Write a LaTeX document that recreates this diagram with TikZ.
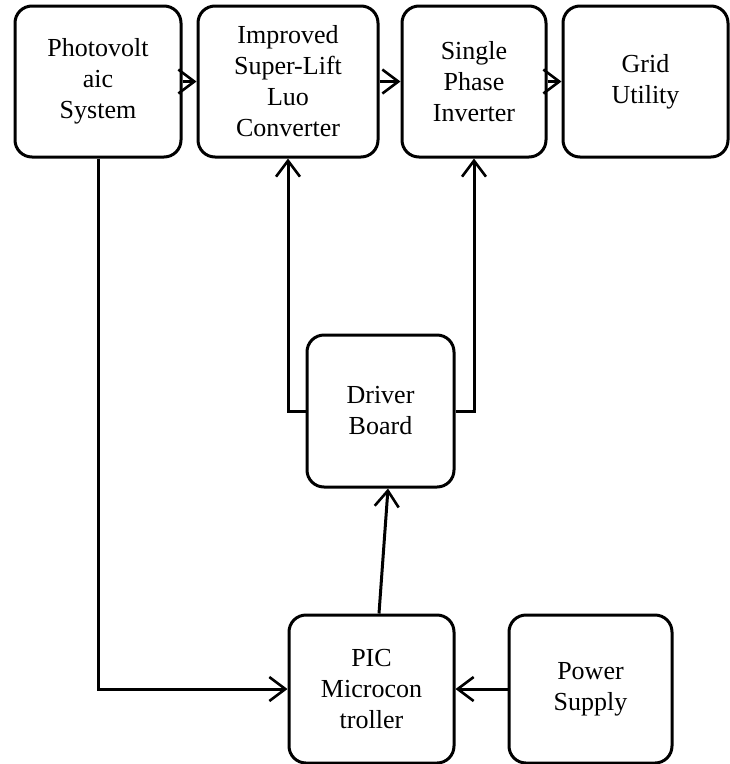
\documentclass[tikz,border=0pt]{standalone}
\usepackage{fontspec}
\setmainfont{Liberation Serif}
\usetikzlibrary{arrows.meta}
\begin{document}
\begin{tikzpicture}[x=1pt,y=-1pt,
  blk/.style={draw=black, line width=3pt, rounded corners=17pt, align=center,
    inner sep=0pt, font=\fontsize{26}{31}\selectfont},
  arr/.style={draw=black, line width=3pt, -{Straight Barb[length=16pt,width=24pt,line width=2.6pt]}}]
\useasboundingbox (0,0) rectangle (730,764);
\node[blk, minimum width=166pt, minimum height=151pt] (pv) at (98,81.5) {Photovolt\\aic\\System};
\node[blk, minimum width=180pt, minimum height=151pt] (conv) at (288,81.5) {Improved\\Super-Lift\\Luo\\Converter};
\node[blk, minimum width=144pt, minimum height=151pt] (inv) at (474,81.5) {Single\\Phase\\Inverter};
\node[blk, minimum width=165pt, minimum height=151pt] (grid) at (645.5,81.5) {Grid\\Utility};
\node[blk, minimum width=147pt, minimum height=152pt] (drv) at (380.5,411) {Driver\\Board};
\node[blk, minimum width=165pt, minimum height=148pt] (pic) at (371.5,689) {PIC\\Microcon\\troller};
\node[blk, minimum width=163pt, minimum height=148pt] (ps) at (590.5,689) {Power\\Supply};
\draw[arr] (pv.east) -- (conv.west);
\draw[arr] (conv.east) -- (inv.west);
\draw[arr] (inv.east) -- (grid.west);
\draw[arr] (drv.west) -| (conv.south);
\draw[arr] (drv.east) -| (inv.south);
\draw[arr] (pv.south) |- (pic.west);
\draw[arr] (ps.west) -- (pic.east);
\draw[arr] ([xshift=7.5pt]pic.north) -- ([xshift=7.5pt]drv.south);
\end{tikzpicture}
\end{document}
